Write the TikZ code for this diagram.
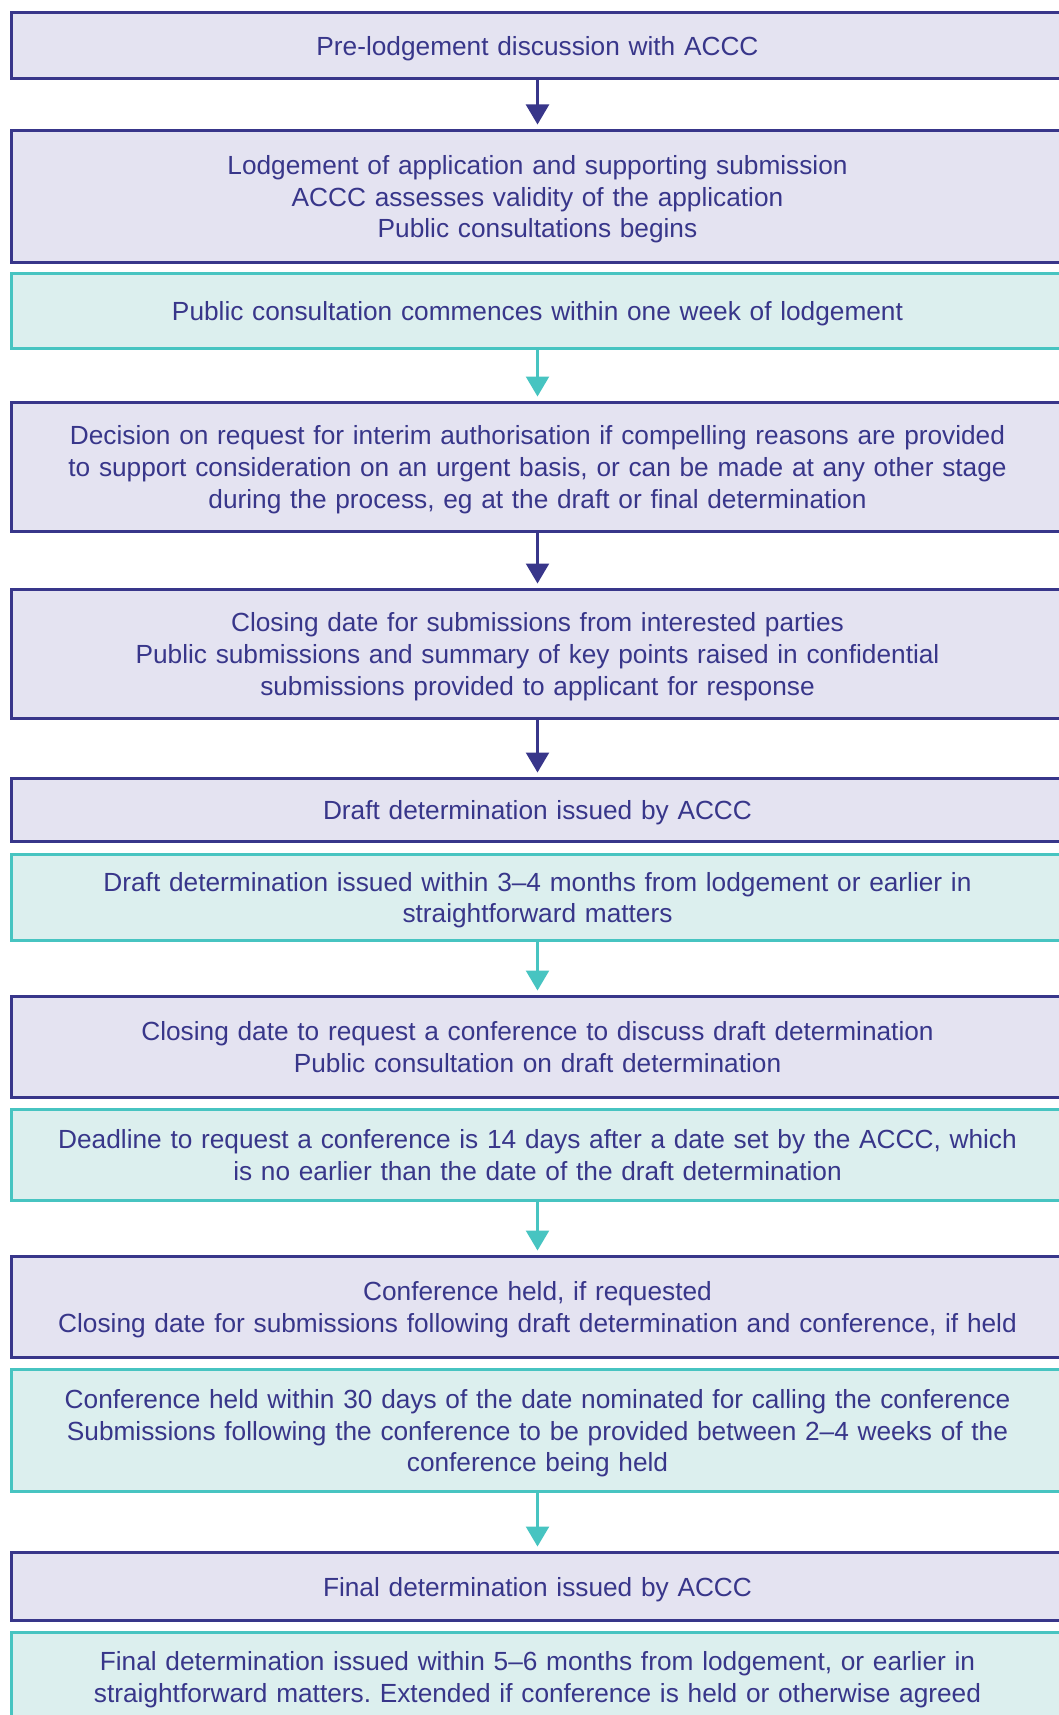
\documentclass[tikz,border=0pt]{standalone}
\usepackage{fontspec}
\setmainfont{Liberation Sans}
\usetikzlibrary{arrows.meta}
\definecolor{accnavy}{HTML}{38368A}
\definecolor{acclilac}{HTML}{E4E3F1}
\definecolor{accteal}{HTML}{47C4C1}
\definecolor{accmint}{HTML}{DCEFEE}
\newcommand\dropdepth{\endgraf\kern-\prevdepth}

\begin{document}
\frenchspacing
\begin{tikzpicture}[x=1pt,y=-1pt,
   stage/.style={draw=accnavy, fill=acclilac, line width=3pt, minimum width=1052pt,
      text width=1040pt, align=center, text=accnavy, inner sep=0pt,
      execute at end node=\dropdepth,
      font=\fontsize{26.25}{31.6}\selectfont},
   note/.style={stage, draw=accteal, fill=accmint},
   flow/.style={draw=accnavy, line width=2.5pt, -{Triangle[width=23pt,length=20pt]}, shorten >=4.5pt},
   tealflow/.style={flow, draw=accteal}]%
   \useasboundingbox (0,0) rectangle (1059,1715);
   \clip (0,0) rectangle (1059,1715);
   % stages down the page
   \node[stage, minimum height=66pt] (prelodge) at (537.5,45.5) {Pre-lodgement discussion with ACCC};
   \node[stage, minimum height=132pt] (lodge) at (537.5,196.5) {Lodgement of application and supporting submission\\ACCC assesses validity of the application\\Public consultations begins};
   \node[note, minimum height=75pt] (lodgenote) at (537.5,311) {Public consultation commences within one week of lodgement};
   \node[stage, minimum height=129pt] (interim) at (537.5,467) {Decision on request for interim authorisation if compelling reasons are provided\\to support consideration on an urgent basis, or can be made at any other stage\\during the process, eg at the draft or final determination};
   \node[stage, minimum height=129pt] (closing) at (537.5,654) {Closing date for submissions from interested parties\\Public submissions and summary of key points raised in confidential\\submissions provided to applicant for response};
   \node[stage, minimum height=63pt] (draft) at (537.5,810) {Draft determination issued by ACCC};
   \node[note, minimum height=86pt] (draftnote) at (537.5,897.5) {Draft determination issued within 3–4 months from lodgement or earlier in\\straightforward matters};
   \node[stage, minimum height=101pt] (confreq) at (537.5,1047) {Closing date to request a conference to discuss draft determination\\Public consultation on draft determination};
   \node[note, minimum height=91pt] (confreqnote) at (537.5,1155) {Deadline to request a conference is 14 days after a date set by the ACCC, which\\is no earlier than the date of the draft determination};
   \node[stage, minimum height=101pt] (confheld) at (537.5,1307) {Conference held, if requested\\Closing date for submissions following draft determination and conference, if held};
   \node[note, minimum height=122pt] (confheldnote) at (537.5,1430.5) {Conference held within 30 days of the date nominated for calling the conference\\Submissions following the conference to be provided between 2–4 weeks of the\\conference being held};
   \node[stage, minimum height=68pt] (final) at (537.5,1586.5) {Final determination issued by ACCC};
   \node[note, minimum height=89pt] (finalnote) at (537.5,1677) {Final determination issued within 5–6 months from lodgement, or earlier in\\straightforward matters. Extended if conference is held or otherwise agreed};
   % arrows
   \draw[flow] (prelodge) -- (lodge);
   \draw[tealflow] (lodgenote) -- (interim);
   \draw[flow] (interim) -- (closing);
   \draw[flow] (closing) -- (draft);
   \draw[tealflow] (draftnote) -- (confreq);
   \draw[tealflow] (confreqnote) -- (confheld);
   \draw[tealflow] (confheldnote) -- (final);
\end{tikzpicture}
\end{document}
